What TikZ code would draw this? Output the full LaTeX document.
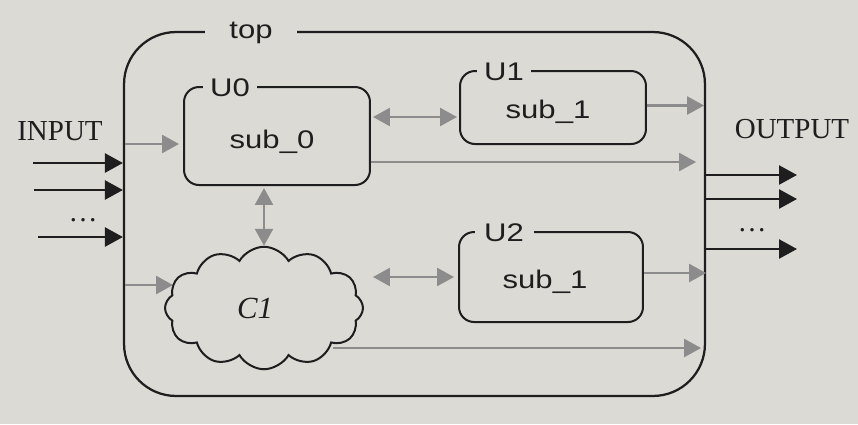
\documentclass[tikz,border=0pt]{standalone}
\usepackage{fontspec}
\setmainfont{Liberation Serif}
\newfontfamily\sanslab[FakeStretch=1.22]{Liberation Sans}
\usetikzlibrary{arrows.meta,shapes.symbols,calc}
\definecolor{bg}{RGB}{220,218,213}
\definecolor{garr}{RGB}{140,140,140}
\definecolor{ink}{RGB}{30,30,30}
\tikzset{
  ubox/.style={draw=ink, line width=0.04cm, rounded corners=0.3cm, inner sep=0pt},
  frameline/.style={draw=ink, line width=0.045cm, rounded corners=1.04cm, inner sep=0pt},
  utag/.style={fill=bg, inner xsep=0pt, inner ysep=1pt, font=\sanslab\fontsize{14.5}{17}\selectfont, text=ink},
  subtxt/.style={font=\sanslab\fontsize{14.5}{17}\selectfont, text=ink},
  sertxt/.style={font=\fontsize{16.5}{19}\selectfont, text=ink},
  barrow/.style={draw=ink, line width=0.05cm, -{Triangle[length=0.36cm,width=0.38cm]}},
  garrow/.style={draw=garr, line width=0.05cm, -{Triangle[length=0.34cm,width=0.36cm]}},
  gdouble/.style={draw=garr, line width=0.05cm, {Triangle[length=0.34cm,width=0.36cm]}-{Triangle[length=0.34cm,width=0.36cm]}},
}
\begin{document}
\begin{tikzpicture}[x=0.02cm,y=-0.02cm]
\fill[bg] (0,0) rectangle (858,424);
\useasboundingbox (0,0) rectangle (858,424);

% frame
\node[frameline, minimum width=11.62cm, minimum height=7.28cm] (top) at (414.5,214) {};
\node[utag, minimum width=1.84cm] (toplbl) at (251,33) {top};

% sub-blocks
\node[ubox, minimum width=3.72cm, minimum height=1.96cm] (U0) at (277,136) {};
\node[utag, minimum width=1.08cm] (U0lbl) at (230,88) {U0};
\node[subtxt] (t0) at (272,142) {sub\_0};

\node[ubox, minimum width=3.72cm, minimum height=1.46cm] (U1) at (553,107.5) {};
\node[utag, minimum width=1.08cm] (U1lbl) at (504,72) {U1};
\node[subtxt] (t1) at (548,112) {sub\_1};

\node[ubox, minimum width=3.68cm, minimum height=1.8cm] (U2) at (551,277) {};
\node[utag, minimum width=1.18cm] (U2lbl) at (504,233) {U2};
\node[subtxt] (t2) at (545,282) {sub\_1};

% cloud
\node[cloud, draw=ink, line width=0.04cm, cloud puffs=12, cloud puff arc=120, aspect=1.65,
      minimum width=3.96cm, minimum height=2.45cm, inner sep=0pt] (C1) at (264,308) {};
\node[sertxt, font=\itshape\fontsize{17.5}{20}\selectfont] (c1t) at (255,308) {C1};
\coordinate (c1out) at (333,348);

% inputs / outputs labels
\node[sertxt] (inlbl) at (60,131) {INPUT};
\node[sertxt] (outlbl) at (792,129) {OUTPUT};
\node[sertxt] (indots) at (83,220) {\dots};
\node[sertxt] (outdots) at (752,230) {\dots};

\coordinate (in1) at (33,163);
\coordinate (in2) at (34,190);
\coordinate (in3) at (38,237);
\coordinate (out1) at (797,175);
\coordinate (out2) at (797,199);
\coordinate (out3) at (797,249);

\draw[barrow] (in1) -- (in1 -| top.west);
\draw[barrow] (in2) -- (in2 -| top.west);
\draw[barrow] (in3) -- (in3 -| top.west);
\draw[barrow] (out1 -| top.east) -- (out1);
\draw[barrow] (out2 -| top.east) -- (out2);
\draw[barrow] (out3 -| top.east) -- (out3);

% inner grey connections
\coordinate (u0in) at ($(U0.west)+(0,8)$);
\draw[garrow, shorten <=0.05cm, shorten >=0.08cm] (u0in -| top.west) -- (u0in);
\coordinate (c1in) at (173,285);
\draw[garrow, shorten <=0.05cm] (c1in -| top.west) -- (c1in);

\coordinate (u1w) at ($(U1.west)+(0,9.5)$);
\draw[gdouble, shorten <=0.04cm, shorten >=0.04cm] (u1w -| U0.east) -- (u1w);
\draw[gdouble, shorten <=0.04cm] (U0.south -| C1.north) -- (C1.north);
\draw[gdouble, shorten <=0.18cm, shorten >=0.08cm] (C1.east |- U2.west) -- (U2.west);

\coordinate (u1e) at ($(U1.east)+(0,-2)$);
\draw[garrow, shorten >=0.04cm] (u1e) -- (u1e -| top.east);
\coordinate (u0e) at ($(U0.east)+(0,26)$);
\draw[garrow, shorten >=0.2cm] (u0e) -- (u0e -| top.east);
\coordinate (u2e) at ($(U2.east)+(0,-4)$);
\draw[garrow] (u2e) -- (u2e -| top.east);
\draw[garrow, shorten >=0.1cm] (c1out) -- (c1out -| top.east);
\end{tikzpicture}
\end{document}
